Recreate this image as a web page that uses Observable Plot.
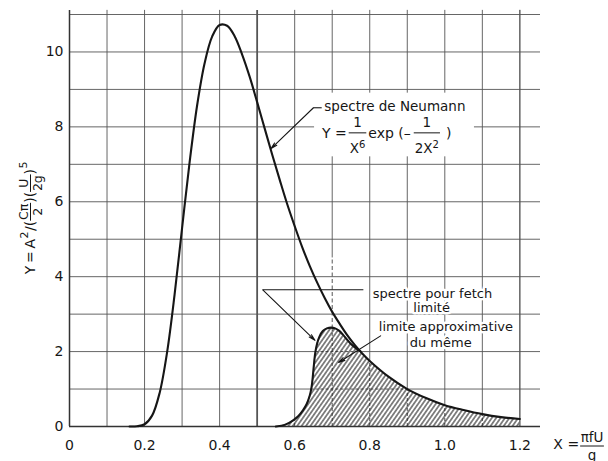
<!DOCTYPE html>
<html>
<head>
<meta charset="utf-8">
<script src="https://cdn.jsdelivr.net/npm/d3@7"></script>
<script src="https://cdn.jsdelivr.net/npm/@observablehq/plot@0.6"></script>
<style>
  html, body { margin: 0; padding: 0; background: #fff; }
  #chart svg { display: block; }
</style>
</head>
<body>
<div id="chart"></div>
<script>
// ---- data ----
const neumannX = [0.16, 0.18, 0.20, 0.22, 0.24, 0.26, 0.28, 0.30, 0.32, 0.34, 0.36, 0.38, 0.40, 0.42, 0.44, 0.46, 0.48, 0.50, 0.52, 0.54, 0.56, 0.58, 0.60, 0.62, 0.64, 0.66, 0.68, 0.70, 0.72, 0.74, 0.76, 0.78, 0.80, 0.85, 0.90, 0.95, 1.00, 1.05, 1.10, 1.15, 1.20];
const neumannY = [0, 0.006, 0.06, 0.29, 0.89, 1.98, 3.52, 5.30, 7.05, 8.57, 9.70, 10.41, 10.72, 10.70, 10.42, 9.93, 9.34, 8.66, 7.96, 7.26, 6.59, 5.94, 5.35, 4.79, 4.29, 3.84, 3.43, 3.06, 2.74, 2.44, 2.18, 1.95, 1.75, 1.33, 1.00, 0.76, 0.57, 0.44, 0.33, 0.25, 0.20];

const fetchX = [0.55, 0.575, 0.595, 0.61, 0.622, 0.632, 0.640, 0.645, 0.648, 0.651, 0.655, 0.660, 0.666, 0.675, 0.686, 0.697, 0.708, 0.718, 0.728, 0.738, 0.750, 0.762, 0.775];
const fetchY = [0, 0.05, 0.16, 0.28, 0.43, 0.60, 0.82, 1.05, 1.30, 1.62, 1.98, 2.22, 2.40, 2.55, 2.62, 2.64, 2.62, 2.56, 2.46, 2.34, 2.20, 2.10, 2.01];

const xTickValues = [0, 0.2, 0.4, 0.6, 0.8, 1.0, 1.2];
const xTickLabels = ["0", "0.2", "0.4", "0.6", "0.8", "1.0", "1.2"];
const yTickValues = [0, 2, 4, 6, 8, 10];
const yTickLabels = ["0", "2", "4", "6", "8", "10"];
const gridXValues = [0.1, 0.2, 0.3, 0.4, 0.5, 0.6, 0.7, 0.8, 0.9, 1.0, 1.1, 1.2];
const gridYValues = [1, 2, 3, 4, 5, 6, 7, 8, 9, 10, 11];
const hatchGridX = [0.6, 0.7, 0.8, 0.9, 1.0, 1.1];
const hatchGridY = [1, 2];

// annotation texts and leaders (data coordinates)
const neumannTitle = [{x: 0.679, y: 8.53, text: "spectre de Neumann"}];
const fetchTexts = [
  {x: 0.967, y: 3.55, text: "spectre pour fetch"},
  {x: 0.965, y: 3.17, text: "limité"},
  {x: 1.003, y: 2.67, text: "limite approximative"},
  {x: 0.989, y: 2.24, text: "du même"}
];
const neumannBox = [{x1: 0.653, x2: 1.079, y1: 7.2, y2: 8.9}];
const leaderLines = [
  {x1: 0.650, y1: 8.51, x2: 0.672, y2: 8.51},
  {x1: 0.515, y1: 3.65, x2: 0.783, y2: 3.65}
];
const leaderArrows = [
  {x1: 0.650, y1: 8.51, x2: 0.537, y2: 7.42},
  {x1: 0.515, y1: 3.65, x2: 0.654, y2: 2.30},
  {x1: 0.829, y1: 2.42, x2: 0.717, y2: 1.71}
];

// ---- tables built from the arrays ----
const neumann = neumannX.map((x, i) => ({x, y: neumannY[i]}));
const fetch = fetchX.map((x, i) => ({x, y: fetchY[i]}));
const hatch = fetch.concat(neumann.filter(d => d.x > fetchX[fetchX.length - 1]));

const xMax = 1.255, yTop = 11.11, dash07Top = 4.5;
const gridColor = "#555";
const ink = "#161616";
const font = "DejaVu Sans";

const plot = Plot.plot({
  width: 608,
  height: 461,
  marginLeft: 69,
  marginRight: 68,
  marginTop: 14,
  marginBottom: 35,
  x: {domain: [0, xMax], axis: null},
  y: {domain: [0, 11], axis: null},
  style: {fontFamily: font, fontSize: "13px", background: "white", color: ink},
  marks: [
    Plot.ruleY(gridYValues, {y: d => d, x1: 0, x2: xMax, stroke: gridColor, strokeWidth: 0.9}),
    Plot.ruleX(gridXValues.filter(d => d !== 0.7), {x: d => d, y1: 0, y2: yTop, stroke: gridColor, strokeWidth: d => d === 0.5 ? 1.8 : 0.9}),
    Plot.ruleX([0.7], {x: d => d, y1: dash07Top, y2: yTop, stroke: gridColor, strokeWidth: 0.9}),
    Plot.ruleX([0.7], {x: d => d, y1: 0, y2: dash07Top, stroke: gridColor, strokeWidth: 1, strokeDasharray: "4,2.5"}),
    Plot.areaY(hatch, {x: "x", y: "y", fill: "white", curve: "catmull-rom"}),
    Plot.ruleX(hatchGridX, {x: d => d, y1: 0, y2: 3, stroke: gridColor, strokeWidth: 1, strokeDasharray: "3,2"}),
    Plot.ruleY(hatchGridY, {y: d => d, x1: 0.55, x2: 1.2, stroke: gridColor, strokeWidth: 1, strokeDasharray: "3,2"}),
    Plot.areaY(hatch, {x: "x", y: "y", fill: "url(#hatch)", curve: "catmull-rom"}),
    Plot.ruleX([1.2], {x: d => d, y1: 0, y2: yTop, stroke: gridColor, strokeWidth: 0.9}),
    Plot.ruleY([0], {y: d => d, x1: 0, x2: xMax, stroke: "#333", strokeWidth: 1.5}),
    Plot.ruleX([0], {x: d => d, y1: 0, y2: yTop, stroke: "#333", strokeWidth: 1.5}),
    Plot.line(neumann, {x: "x", y: "y", stroke: ink, strokeWidth: 2.1, curve: "catmull-rom"}),
    Plot.line(fetch, {x: "x", y: "y", stroke: ink, strokeWidth: 2.1, curve: "catmull-rom"}),
    Plot.text(xTickValues, {x: d => d, y: 0, dy: 19, text: (d, i) => xTickLabels[i], fontSize: 14, fill: ink, lineAnchor: "middle"}),
    Plot.text(yTickValues, {x: 0, y: d => d, dx: -6, text: (d, i) => yTickLabels[i], fontSize: 14, fill: ink, textAnchor: "end", lineAnchor: "middle"}),
    Plot.rect(neumannBox, {x1: "x1", x2: "x2", y1: "y1", y2: "y2", fill: "white"}),
    Plot.text(fetchTexts, {x: "x", y: "y", text: "text", fontSize: 13, fill: "white", stroke: "white", strokeWidth: 5, lineAnchor: "middle"}),
    Plot.text(fetchTexts, {x: "x", y: "y", text: "text", fontSize: 13, fill: ink, lineAnchor: "middle"}),
    Plot.link(leaderLines, {x1: "x1", y1: "y1", x2: "x2", y2: "y2", stroke: ink, strokeWidth: 1.1}),
    Plot.arrow(leaderArrows, {x1: "x1", y1: "y1", x2: "x2", y2: "y2", stroke: ink, strokeWidth: 1.1, headLength: 9, headAngle: 28}),
    Plot.text(neumannTitle, {x: "x", y: "y", text: "text", fontSize: 13.5, fill: ink, textAnchor: "start", lineAnchor: "middle"})
  ]
});

document.getElementById("chart").appendChild(plot);

const svg = d3.select(plot);
const defs = svg.insert("defs", ":first-child");
const pat = defs.append("pattern")
  .attr("id", "hatch")
  .attr("patternUnits", "userSpaceOnUse")
  .attr("width", 3.6)
  .attr("height", 3.6)
  .attr("patternTransform", "rotate(35)");
pat.append("line").attr("x1", 1.8).attr("x2", 1.8).attr("y1", -1).attr("y2", 4.6)
  .attr("stroke", "#1e1e1e").attr("stroke-width", 1.05);

// clip the dashed grid to the hatched region
const whiteArea = svg.selectAll("path").filter(function() {
  const p = this.parentNode;
  return (this.getAttribute("fill") === "white" || (p && p.getAttribute && p.getAttribute("fill") === "white"))
    && this.getAttribute("d") && this.getAttribute("d").length > 200;
});
if (!whiteArea.empty()) {
  defs.append("clipPath").attr("id", "hatchclip").append("path").attr("d", whiteArea.node().getAttribute("d"));
  svg.selectAll("g").filter(function() { return this.getAttribute("stroke-dasharray") === "3,2"; })
    .attr("clip-path", "url(#hatchclip)");
}

const sx = v => plot.scale("x").apply(v);
const sy = v => plot.scale("y").apply(v);

function rich(g, x, y, pieces, anchor) {
  const t = g.append("text").attr("x", x).attr("y", y).attr("text-anchor", anchor || "start").attr("fill", ink);
  for (const p of pieces) t.append("tspan").attr("font-size", p.size).attr("dy", p.dy || 0).text(p.s);
  return t;
}
function run(g, x, y, s, size) {
  return rich(g, x, y, [{s, size}]).node().getComputedTextLength();
}
function frac(g, x, num, den, yNum, yBar, yDen, pad) {
  pad = pad == null ? 1.5 : pad;
  const tn = rich(g, 0, yNum, num, "middle");
  const td = rich(g, 0, yDen, den, "middle");
  const w = Math.max(tn.node().getComputedTextLength(), td.node().getComputedTextLength()) + 2 * pad;
  tn.attr("x", x + w / 2);
  td.attr("x", x + w / 2);
  g.append("line").attr("x1", x).attr("x2", x + w).attr("y1", yBar).attr("y2", yBar)
    .attr("stroke", ink).attr("stroke-width", 1);
  return w;
}

// Neumann formula: Y = 1/X^6 exp(-1/(2X^2))
{
  const g = svg.append("g").attr("font-family", font)
    .attr("transform", `translate(${sx(0.674)},${sy(7.68)})`);
  let u = 0;
  u += run(g, u, 0, "Y =", 14) + 2;
  u += frac(g, u, [{s: "1", size: 13.5}], [{s: "X", size: 13.5}, {s: "6", size: 10, dy: -5}], -11.5, -5.5, 14.5, 1) + 2;
  u += run(g, u, 0, "exp (–", 14) + 3;
  u += frac(g, u, [{s: "1", size: 13.5}], [{s: "2X", size: 13.5}, {s: "2", size: 10, dy: -5}], -11.5, -5.5, 14.5, 1) + 6;
  run(g, u, 0, ")", 14);
}

// y-axis label: Y = A²/(Cπ/2)(U/2g)⁵
{
  const gy = svg.append("g").attr("font-family", font)
    .attr("transform", `translate(35,${sy(5.55)}) rotate(-90)`);
  const inner = gy.append("g");
  let u = 0;
  u += run(inner, u, 0, "Y\u2009=\u2009A", 14);
  u += run(inner, u + 0.5, -7.5, "2", 11) + 1;
  u += run(inner, u, 0, "/(", 14);
  u += frac(inner, u, [{s: "Cπ", size: 12.5}], [{s: "2", size: 12.5}], -7.5, -4.5, 6.5, 0.8);
  u += run(inner, u, 0, ")(", 14);
  u += frac(inner, u, [{s: "U", size: 12.5}], [{s: "2g", size: 12.5}], -7.5, -4.5, 6.5, 0.8);
  u += run(inner, u, 0, ")", 14);
  u += run(inner, u + 0.5, -8.5, "5", 11);
  inner.attr("transform", `translate(${-u / 2},0)`);
}

// x-axis label: X = πfU/g
{
  const g = svg.append("g").attr("font-family", font)
    .attr("transform", `translate(${sx(1.2) + 34},${sy(0) + 23})`);
  let u = 0;
  u += run(g, u, 0, "X =", 14) + 1;
  frac(g, u, [{s: "πfU", size: 13.5}], [{s: "g", size: 13.5}], -7.5, -3, 10.5, 0.5);
}
</script>
</body>
</html>
